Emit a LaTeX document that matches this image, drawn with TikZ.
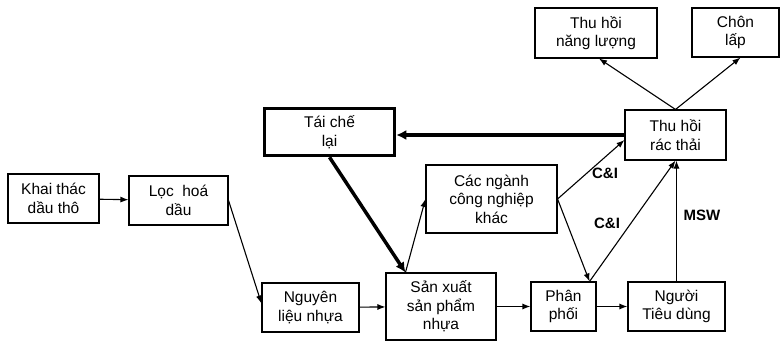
\documentclass[tikz,border=0pt]{standalone}
\usepackage{fontspec}
\setmainfont{Liberation Sans}
\usetikzlibrary{arrows.meta,calc}
\begin{document}
\begin{tikzpicture}[x=1pt,y=-1pt,
  box/.style={draw,line width=1.1pt,inner sep=0pt,align=center,font=\fontsize{15.5}{18.5}\selectfont},
  thickbox/.style={box,line width=3.5pt},
  conn/.style={line width=1.1pt,-{Latex[length=8pt,width=6pt]}},
  thickconn/.style={line width=3.5pt,-{Latex[length=10pt,width=10pt]}},
  lbl/.style={font=\fontsize{15}{18}\selectfont\bfseries,inner sep=0pt}]
\fill[white] (0,0) rectangle (784,342);
\useasboundingbox (0,0) rectangle (784,342);
\node[box,minimum width=91pt,minimum height=49pt] (khai) at (53.5,198.5) {Khai thác\\dầu thô};
\node[box,minimum width=99pt,minimum height=49pt] (loc) at (178.5,200.5) {Lọc \ hoá\\dầu};
\node[thickbox,minimum width=130pt,minimum height=47pt] (taiche) at (329.5,132) {Tái chế\\lại};
\node[box,minimum width=131pt,minimum height=68pt] (cac) at (491.5,199) {Các ngành\\công nghiệp\\khác};
\node[box,minimum width=97pt,minimum height=49pt] (nguyen) at (310.5,307.5) {Nguyên\\liệu nhựa};
\node[box,minimum width=110pt,minimum height=67pt] (sx) at (441,306.5) {Sản xuất\\sản phẩm\\nhựa};
\node[box,minimum width=65pt,minimum height=49pt] (phan) at (563.5,306.5) {Phân\\phối};
\node[box,minimum width=97pt,minimum height=49pt] (nguoi) at (676.5,306.5) {Người\\Tiêu dùng};
\node[box,minimum width=101pt,minimum height=50pt] (thuhoi) at (675.5,135) {Thu hồi\\rác thải};
\node[box,minimum width=122pt,minimum height=50pt] (nang) at (596,33) {Thu hồi\\năng lượng};
\node[box,minimum width=87pt,minimum height=49pt] (chon) at (735.5,32.5) {Chôn\\lấp};
\coordinate (sxtop) at ($(sx.north west)+(20,0)$);
\coordinate (phantop) at ($(phan.north east)+(-7,0)$);
\draw[conn] (khai) -- (loc);
\draw[conn] (loc.east) -- ($(nguyen.west)+(0,-4)$);
\draw[conn] (nguyen) -- (sx);
\draw[conn] (sx) -- (phan);
\draw[conn] (phan) -- (nguoi);
\draw[thickconn] (taiche.south) -- (sxtop);
\draw[conn] (sxtop) -- (cac.west);
\draw[conn] (cac.east) -- (phantop);
\draw[conn] (cac.east) -- ($(thuhoi.west)+(0,5)$);
\draw[conn] (phantop) -- (thuhoi.south);
\draw[conn] (nguoi.north) -- (nguoi.north |- thuhoi.south);
\draw[conn] (thuhoi.north) -- ($(nang.south)+(3,0)$);
\draw[conn] (thuhoi.north) -- ($(chon.south)+(5,0)$);
\draw[thickconn] (thuhoi.west) -- (thuhoi.west -| taiche.east);
\node[lbl] (ci1) at (605,173) {C\&I};
\node[lbl] (ci2) at (607,223) {C\&I};
\node[lbl] (msw) at (702,215) {MSW};
\end{tikzpicture}
\end{document}
